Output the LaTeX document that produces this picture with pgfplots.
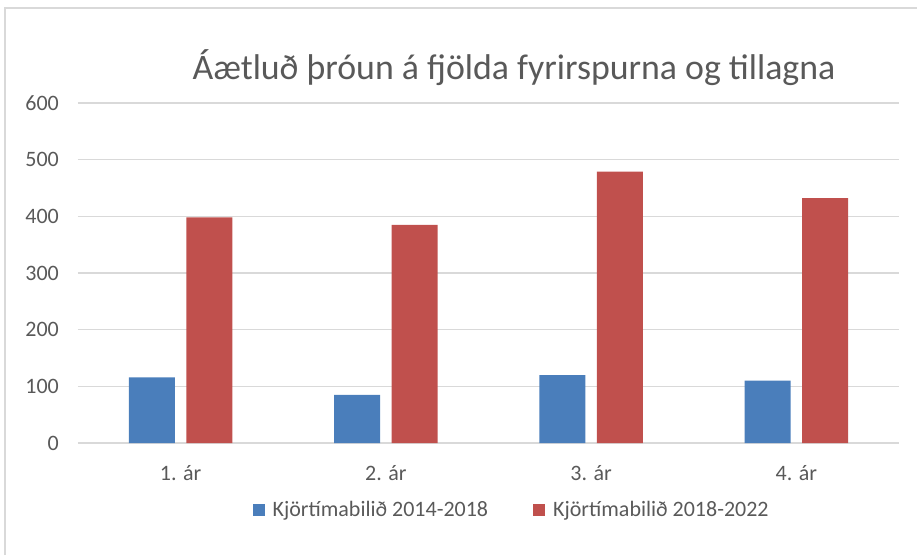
\documentclass[border=0pt]{standalone}
\usepackage{fontspec}
\setmainfont{Carlito}
\usepackage{pgfplots}
\pgfplotsset{compat=1.18}
\definecolor{barblue}{HTML}{4A7EBB}
\definecolor{barred}{HTML}{C0504D}
\definecolor{gridgray}{HTML}{D9D9D9}
\definecolor{txtgray}{HTML}{595959}
\begin{document}
\begin{tikzpicture}[x=1pt,y=1pt]
\useasboundingbox (0,0) rectangle (917,555);
\draw[gridgray, line width=1.5pt] (5,0) -- (5,547) -- (917,547);
\node[anchor=base, font=\fontsize{35.8}{40}\selectfont, text=txtgray, inner sep=0] at (514,475) {Áætluð þróun á fjölda fyrirspurna og tillagna};
\begin{axis}[
  at={(78pt,112pt)}, anchor=south west,
  scale only axis, width=821pt, height=340pt,
  xmin=-0.5, xmax=3.5, ymin=0, ymax=600,
  ytick={0,100,...,600},
  xtick={0,1,2,3}, xticklabels={1. ár,2. ár,3. ár,4. ár},
  axis line style={draw=none},
  major tick length=0,
  ymajorgrids, grid style={gridgray, line width=1.3pt},
  /pgf/number format/assume math mode=true,
  tick label style={font=\fontsize{22}{26}\selectfont, text=txtgray, inner sep=0},
  yticklabel style={anchor=east, xshift=-19pt},
  xticklabel style={anchor=north, yshift=-22pt},
  ybar, bar width=46pt,
  legend columns=2,
  legend style={draw=none, fill=none, at={(axis description cs:0.527,-0.197)}, anchor=center,
    font=\fontsize{22}{26}\selectfont, text=txtgray, nodes={inner sep=0pt},
    /tikz/every odd column/.append style={column sep=8pt},
    /tikz/every even column/.append style={column sep=45pt}},
  legend image code/.code={\fill[#1] (0pt,-6pt) rectangle (12pt,6pt);},
]
\addplot[fill=barblue, draw=none, bar shift=-28.75pt] coordinates {(0,116) (1,85) (2,120) (3,110)};
\addplot[fill=barred, draw=none, bar shift=28.75pt] coordinates {(0,398) (1,385) (2,479) (3,432)};
\legend{Kjörtímabilið 2014-2018, Kjörtímabilið 2018-2022}
\end{axis}
\end{tikzpicture}
\end{document}
